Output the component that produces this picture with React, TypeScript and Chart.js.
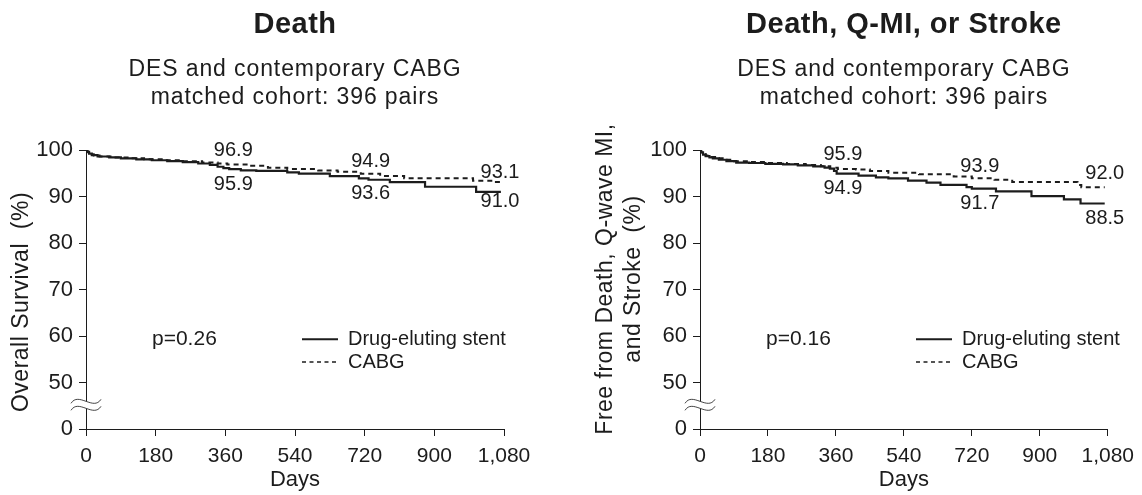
import React, { useEffect, useRef } from 'react';
import { Chart, registerables } from 'chart.js';

Chart.register(...registerables);

// ---------- data ----------
const dayTicks = [0, 180, 360, 540, 720, 900, 1080];
const survTicks = [40, 50, 60, 70, 80, 90, 100];
const survTickLabels = ['0', '50', '60', '70', '80', '90', '100']; // axis break between 0 and 50

// Panel 1: Death
const deathDesDays = [0, 3, 8, 15, 30, 60, 90, 130, 170, 210, 250, 290, 320, 340, 355, 370, 400, 440, 520, 550, 630, 705, 730, 785, 876, 1008, 1072];
const deathDesPct = [100, 99.6, 99.2, 98.9, 98.6, 98.4, 98.2, 98.0, 97.8, 97.6, 97.4, 97.1, 96.8, 96.4, 96.1, 95.9, 95.6, 95.5, 95.2, 94.9, 94.4, 93.9, 93.6, 93.1, 92.1, 91.0, 91.0];
const deathCabgDays = [0, 4, 10, 20, 35, 70, 110, 150, 200, 250, 300, 340, 365, 420, 470, 520, 600, 650, 710, 760, 822, 1000, 1050, 1072];
const deathCabgPct = [100, 99.5, 99.1, 98.8, 98.6, 98.4, 98.2, 98.0, 97.8, 97.6, 97.3, 97.1, 96.9, 96.6, 96.2, 95.9, 95.6, 95.3, 94.9, 94.4, 93.9, 93.4, 93.1, 93.1];
const deathNoteDays = [360, 360, 720, 720, 1080, 1080];
const deathNoteValues = [96.9, 95.9, 94.9, 93.6, 93.1, 91.0];

// Panel 2: Death, Q-MI, or Stroke
const compDesDays = [0, 3, 8, 15, 25, 34, 50, 70, 96, 130, 173, 220, 259, 300, 330, 344, 355, 362, 420, 466, 499, 551, 600, 637, 706, 720, 784, 878, 964, 1008, 1072];
const compDesPct = [100, 99.5, 99.0, 98.7, 98.4, 98.2, 97.9, 97.6, 97.3, 97.2, 97.0, 96.9, 96.7, 96.5, 96.2, 96.0, 95.5, 94.9, 94.5, 94.1, 93.9, 93.4, 93.0, 92.5, 92.0, 91.7, 91.1, 90.1, 89.4, 88.5, 88.5];
const compCabgDays = [0, 3, 8, 15, 25, 40, 60, 90, 130, 180, 230, 280, 320, 345, 365, 413, 450, 499, 580, 672, 720, 780, 827, 1000, 1010, 1072];
const compCabgPct = [100, 99.5, 99.1, 98.8, 98.5, 98.2, 97.9, 97.6, 97.4, 97.2, 97.0, 96.8, 96.5, 96.2, 95.9, 95.8, 95.5, 95.1, 94.8, 94.3, 93.9, 93.6, 93.1, 92.5, 92.0, 92.0];
const compNoteDays = [360, 360, 720, 720, 1080, 1080];
const compNoteValues = [95.9, 94.9, 93.9, 91.7, 92.0, 88.5];

const seriesNames = ['Drug-eluting stent', 'CABG'];

// ---------- styling ----------
const FONT = '"Liberation Sans", Arial, Helvetica, sans-serif';
const INK = '#1c1c1c';
const W = 571;
const H = 495;

type NoteStyle = { dx: number; dy: number };

interface PanelCfg {
  title: string;
  subtitle: string[];
  yTitle: string[];
  yTitleX: number[];
  yTitleCY: number;
  pValue: string;
  desDays: number[];
  desPct: number[];
  cabgDays: number[];
  cabgPct: number[];
  noteDays: number[];
  noteValues: number[];
  noteStyle: NoteStyle[];
  axisLeft: number;
  padRight: number;
}

const panels: PanelCfg[] = [
  {
    title: 'Death',
    subtitle: ['DES and contemporary CABG', 'matched cohort: 396 pairs'],
    yTitle: ['Overall Survival  (%)'],
    yTitleX: [22],
    yTitleCY: 302,
    pValue: 'p=0.26',
    desDays: deathDesDays,
    desPct: deathDesPct,
    cabgDays: deathCabgDays,
    cabgPct: deathCabgPct,
    noteDays: deathNoteDays,
    noteValues: deathNoteValues,
    noteStyle: [
      { dx: 8, dy: -14 },
      { dx: 8, dy: 15 },
      { dx: 6, dy: -12 },
      { dx: 6, dy: 14 },
      { dx: -4, dy: -10 },
      { dx: -4, dy: 10 },
    ],
    axisLeft: 86,
    padRight: 67,
  },
  {
    title: 'Death, Q-MI, or Stroke',
    subtitle: ['DES and contemporary CABG', 'matched cohort: 396 pairs'],
    yTitle: ['Free from Death, Q-wave MI,', 'and Stroke  (%)'],
    yTitleX: [35, 63],
    yTitleCY: 279,
    pValue: 'p=0.16',
    desDays: compDesDays,
    desPct: compDesPct,
    cabgDays: compCabgDays,
    cabgPct: compCabgPct,
    noteDays: compNoteDays,
    noteValues: compNoteValues,
    noteStyle: [
      { dx: 7, dy: -15 },
      { dx: 7, dy: 15 },
      { dx: 8, dy: -12 },
      { dx: 8, dy: 15 },
      { dx: -3, dy: -14 },
      { dx: -3, dy: 15 },
    ],
    axisLeft: 129,
    padRight: 24,
  },
];

function toPoints(days: number[], vals: number[]) {
  return days.map((d, i) => ({ x: d, y: vals[i] }));
}

function makeDecor(p: PanelCfg) {
  return {
    id: 'kmDecor',
    afterDraw(chart: any) {
      const ctx: CanvasRenderingContext2D = chart.ctx;
      const xs = chart.scales.x;
      const ys = chart.scales.y;
      const ca = chart.chartArea;
      const cx = (ca.left + ca.right) / 2;
      ctx.save();
      ctx.fillStyle = INK;
      ctx.textAlign = 'center';
      ctx.textBaseline = 'middle';

      // title
      (ctx as any).letterSpacing = '0.5px';
      ctx.font = `bold 29px ${FONT}`;
      ctx.fillText(p.title, cx, 25);
      // subtitle
      (ctx as any).letterSpacing = '0.9px';
      ctx.font = `23px ${FONT}`;
      p.subtitle.forEach((s, i) => ctx.fillText(s, cx, 70 + i * 28));

      // y title
      (ctx as any).letterSpacing = '0.5px';
      ctx.font = `23px ${FONT}`;
      p.yTitle.forEach((s, i) => {
        ctx.save();
        ctx.translate(p.yTitleX[i], p.yTitleCY);
        ctx.rotate(-Math.PI / 2);
        ctx.fillText(s, 0, 0);
        ctx.restore();
      });

      // annotations
      (ctx as any).letterSpacing = '0px';
      ctx.font = `20px ${FONT}`;
      p.noteValues.forEach((v, i) => {
        const st = p.noteStyle[i];
        const x = xs.getPixelForValue(p.noteDays[i]) + st.dx;
        const y = ys.getPixelForValue(v) + st.dy;
        ctx.fillText(v.toFixed(1), x, y);
      });

      // p-value
      ctx.textAlign = 'left';
      ctx.font = `21px ${FONT}`;
      const yLeg1 = ys.getPixelForValue(59.3);
      const yLeg2 = ys.getPixelForValue(54.4);
      ctx.fillText(p.pValue, ca.left + 66, yLeg1);

      // legend
      ctx.font = `20px ${FONT}`;
      ctx.strokeStyle = INK;
      ctx.lineWidth = 2;
      ctx.beginPath();
      ctx.moveTo(ca.left + 216, yLeg1);
      ctx.lineTo(ca.left + 252, yLeg1);
      ctx.stroke();
      ctx.setLineDash([4, 3.5]);
      ctx.lineWidth = 1.6;
      ctx.beginPath();
      ctx.moveTo(ca.left + 216, yLeg2);
      ctx.lineTo(ca.left + 252, yLeg2);
      ctx.stroke();
      ctx.setLineDash([]);
      ctx.fillText(seriesNames[0], ca.left + 262, yLeg1);
      ctx.fillText(seriesNames[1], ca.left + 262, yLeg2);

      // axis break symbol
      const bx = ca.left;
      const by = ys.getPixelForValue(45.2);
      const hw = 15;
      const gap = 3.5;
      const wave = (off: number) => {
        ctx.moveTo(bx - hw, by + off + 2);
        ctx.bezierCurveTo(bx - hw / 2, by + off - 10, bx + hw / 2, by + off + 10, bx + hw, by + off - 2);
      };
      ctx.fillStyle = '#ffffff';
      ctx.beginPath();
      ctx.moveTo(bx - hw, by - gap + 2);
      ctx.bezierCurveTo(bx - hw / 2, by - gap - 10, bx + hw / 2, by - gap + 10, bx + hw, by - gap - 2);
      ctx.lineTo(bx + hw, by + gap - 2);
      ctx.bezierCurveTo(bx + hw / 2, by + gap + 10, bx - hw / 2, by + gap - 10, bx - hw, by + gap + 2);
      ctx.closePath();
      ctx.fill();
      ctx.strokeStyle = '#444';
      ctx.lineWidth = 1;
      ctx.beginPath();
      wave(-gap);
      wave(gap);
      ctx.stroke();

      ctx.restore();
    },
  };
}

function KMPanel({ p }: { p: PanelCfg }) {
  const ref = useRef<HTMLCanvasElement>(null);
  useEffect(() => {
    const canvas = ref.current!;
    const gridCfg = {
      display: true,
      drawOnChartArea: false,
      drawTicks: true,
      tickLength: 7,
      color: INK,
      lineWidth: 1,
    };
    const chart = new Chart(canvas, {
      type: 'line',
      data: {
        datasets: [
          {
            label: seriesNames[0],
            data: toPoints(p.desDays, p.desPct),
            borderColor: INK,
            borderWidth: 2.2,
            stepped: true,
            pointRadius: 0,
            fill: false,
          },
          {
            label: seriesNames[1],
            data: toPoints(p.cabgDays, p.cabgPct),
            borderColor: INK,
            borderWidth: 2,
            borderDash: [5, 4],
            stepped: true,
            pointRadius: 0,
            fill: false,
          },
        ],
      },
      options: {
        responsive: false,
        animation: false,
        events: [],
        layout: { padding: { top: 150, right: p.padRight, left: 0, bottom: 0 } },
        plugins: {
          legend: { display: false },
          tooltip: { enabled: false },
          title: { display: false },
        },
        scales: {
          x: {
            type: 'linear',
            min: 0,
            max: 1080,
            afterBuildTicks: (s: any) => {
              s.ticks = dayTicks.map((v) => ({ value: v }));
            },
            afterFit: (s: any) => {
              s.height = 66;
            },
            ticks: {
              color: INK,
              font: { family: FONT, size: 21 },
              padding: 8,
              maxRotation: 0,
              autoSkip: false,
              callback: (v: any) => Number(v).toLocaleString('en-US'),
            },
            grid: gridCfg,
            border: { display: true, color: INK, width: 1 },
            title: {
              display: true,
              text: 'Days',
              color: INK,
              font: { family: FONT, size: 22 },
              padding: { top: 0, bottom: 2 },
            },
          },
          y: {
            type: 'linear',
            min: 40,
            max: 100,
            afterBuildTicks: (s: any) => {
              s.ticks = survTicks.map((v) => ({ value: v }));
            },
            afterFit: (s: any) => {
              s.width = p.axisLeft;
            },
            ticks: {
              color: INK,
              font: { family: FONT, size: 22 },
              padding: 6,
              autoSkip: false,
              callback: (v: any) => {
                const i = survTicks.indexOf(Number(v));
                return i >= 0 ? survTickLabels[i] : '';
              },
            },
            grid: gridCfg,
            border: { display: true, color: INK, width: 1 },
          },
        },
      },
      plugins: [makeDecor(p)],
    } as any);
    return () => chart.destroy();
  }, [p]);
  return <canvas ref={ref} width={W} height={H} style={{ display: 'block', width: W, height: H }} />;
}

export default function App() {
  return (
    <div
      style={{
        position: 'fixed',
        left: 0,
        top: 0,
        width: 1142,
        height: 495,
        background: '#ffffff',
        display: 'flex',
        flexDirection: 'row',
      }}
    >
      {panels.map((p, i) => (
        <KMPanel key={i} p={p} />
      ))}
    </div>
  );
}
